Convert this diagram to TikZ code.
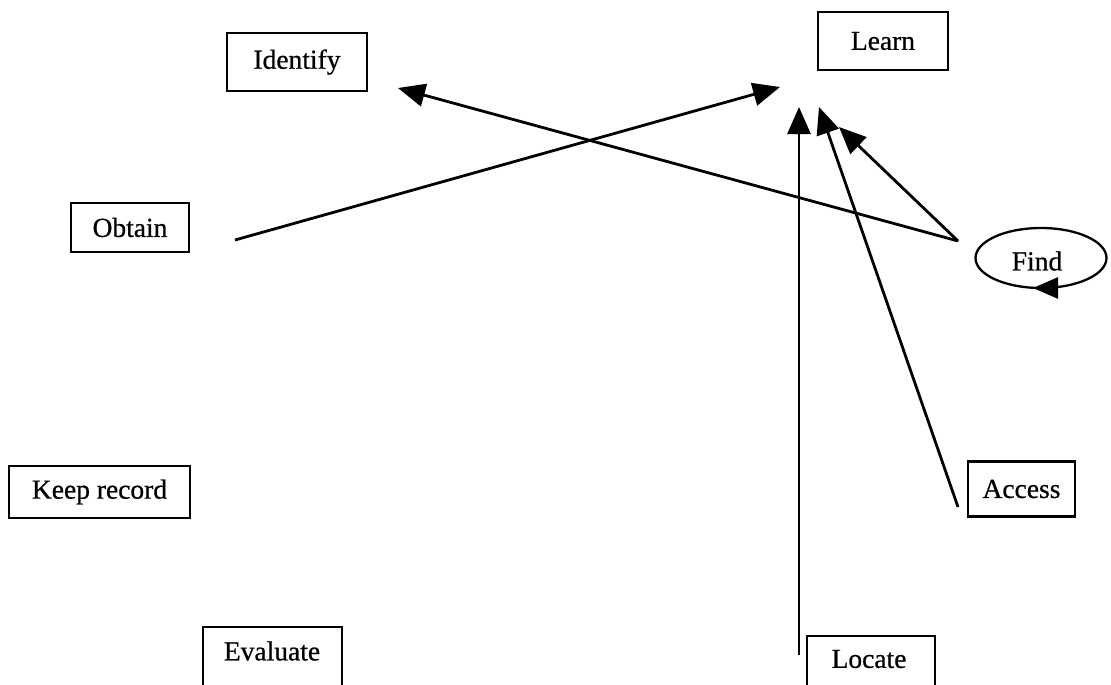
\documentclass[tikz,border=0pt]{standalone}
\usepackage{fontspec}
\setmainfont{Liberation Serif}[FakeBold=0.7]
\usetikzlibrary{arrows.meta,shapes.geometric}
\begin{document}
\begin{tikzpicture}[x=1pt,y=-1pt,
  every node/.style={font=\fontsize{27.5}{32}\selectfont},
  box/.style={draw, line width=2.3pt, inner sep=0pt},
  bigarrow/.style={line width=2.8pt, -{Triangle[length=27pt,width=23pt]}},
  boxline/.style={line width=2.3pt}]
\clip (0,0) rectangle (1111,685);
\fill[white] (0,0) rectangle (1111,685);

% boxed labels
\node[box, minimum width=140, minimum height=58] (identify) at (297,62) {Identify};
\node[box, minimum width=130, minimum height=58] (learn) at (883,41) {Learn};
\node[box, minimum width=118, minimum height=49] (obtain) at (130,227.5) {Obtain};
\node[box, minimum width=181, minimum height=52] (keep) at (99.5,492) {Keep record};
\node[box, minimum width=107, minimum height=55] (access) at (1021.5,489) {Access};
\node[draw, ellipse, line width=2.3pt, minimum width=131, minimum height=60, inner sep=0pt] (find) at (1041,258) {};
\node (findtext) at (1037,261) {Find};

% boxes running off the lower edge
\draw[boxline] (203,700) |- (342,627) -- (342,700);
\node (evaluate) at (272,651) {Evaluate};
\draw[boxline] (807,700) |- (935,636) -- (935,700);
\node (locate) at (869,659) {Locate};

% free ends of the arrows
\coordinate (obtainend) at (235,240);
\coordinate (findend) at (958,241);
\coordinate (accessend) at (958,507);
\coordinate (locateend) at (799,655);
\coordinate (tipA) at (780,87);
\coordinate (tipB) at (398,88);
\coordinate (tipC) at (799,107);
\coordinate (tipD) at (819,107);
\coordinate (tipE) at (839,127);

\draw[bigarrow] (obtainend) -- (tipA);
\draw[bigarrow] (findend) -- (tipB);
\draw[bigarrow] (findend) -- (tipE);
\draw[bigarrow] (accessend) -- (tipD);
\draw[bigarrow] (locateend) -- (tipC);

% arrowhead on the lower edge of the ellipse
\coordinate (looptail) at (1058,288);
\coordinate (loophead) at (1033,288);
\draw[line width=2.3pt, -{Triangle[length=25pt,width=21pt]}] (looptail) -- (loophead);
\end{tikzpicture}
\end{document}
